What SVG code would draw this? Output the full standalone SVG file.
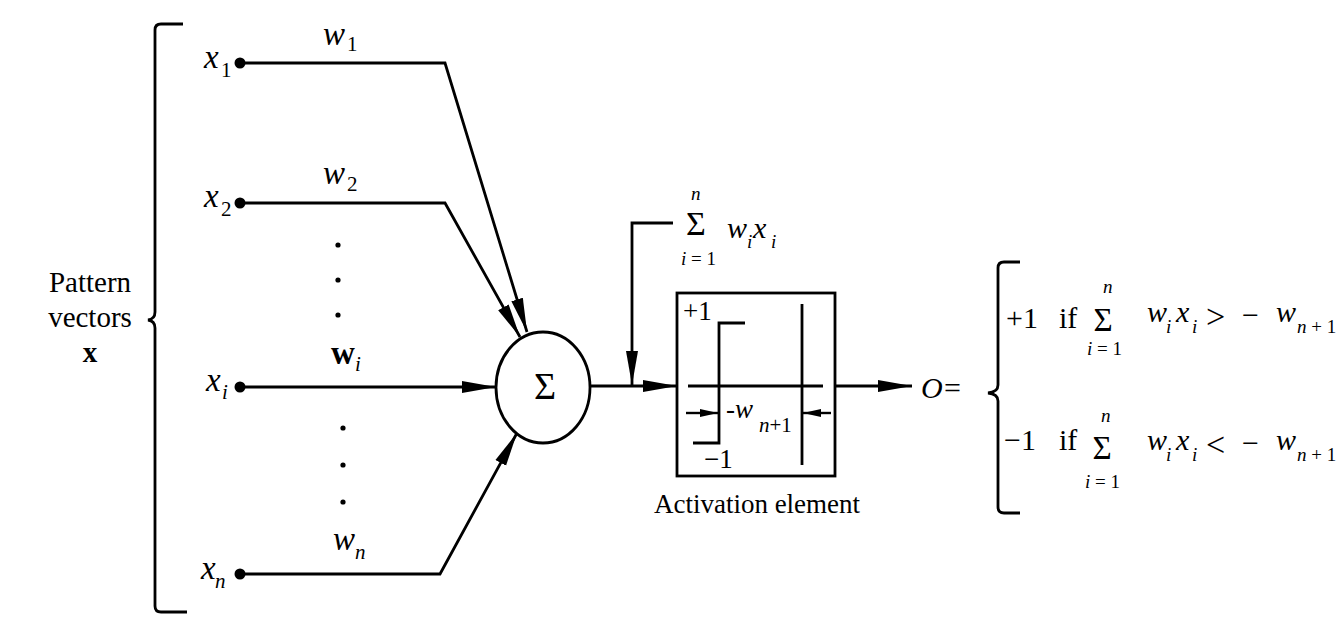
<svg xmlns="http://www.w3.org/2000/svg" width="1343" height="636" viewBox="0 0 1343 636" font-family="'Liberation Serif', serif">
<defs>
<marker id="ah" markerUnits="userSpaceOnUse" markerWidth="36" markerHeight="14" refX="34" refY="7" orient="auto">
<path d="M0,1 L34,7 L0,13 z" fill="#000"/>
</marker>
<marker id="as" markerUnits="userSpaceOnUse" markerWidth="20" markerHeight="10" refX="18" refY="5" orient="auto">
<path d="M0,1 L18,5 L0,9 z" fill="#000"/>
</marker>
<style>
.ln{fill:none;stroke:#000;stroke-width:2.8;stroke-linejoin:miter}
.thin{fill:none;stroke:#000;stroke-width:2.4}
text{font-family:'Liberation Serif',serif;fill:#000}
.it{font-style:italic}
.v{font-size:33px}
.s{font-size:21px}
.f{font-size:30px}
.fs{font-size:19px}
</style>
</defs>
<rect width="1343" height="636" fill="#fff"/>

<g id="pattern-label">
<text x="90" y="292" font-size="29" text-anchor="middle">Pattern</text>
<text x="90" y="327" font-size="29" text-anchor="middle">vectors</text>
<text x="90" y="362" font-size="29" font-weight="bold" text-anchor="middle">x</text>
<path class="ln" d="M183,24 H161 Q155,24 155,30 V312 Q155,319 148,320 Q155,321 155,328 V606 Q155,612 161,612 H187"/>
</g>

<g id="x1">
<circle cx="240" cy="63" r="5.5"/>
<text class="it v" x="204" y="68">x</text><text class="s" x="221" y="77">1</text>
<text class="it v" x="323" y="45">w</text><text class="s" x="347" y="51">1</text>
</g>
<g id="x2">
<circle cx="240" cy="203" r="5.5"/>
<text class="it v" x="204" y="207">x</text><text class="s" x="221" y="216">2</text>
<text class="it v" x="323" y="184">w</text><text class="s" x="347" y="191">2</text>
</g>
<g id="dots-upper">
<circle cx="338" cy="245" r="2.6"/><circle cx="338" cy="280" r="2.6"/><circle cx="338" cy="315" r="2.6"/>
</g>
<g id="xi">
<circle cx="240" cy="387" r="5.5"/>
<text class="it v" x="206" y="391">x</text><text class="it s" x="222" y="399">i</text>
<text class="v" x="331" y="364" font-weight="bold">w</text><text class="it s" x="355" y="371">i</text>
</g>
<g id="dots-lower">
<circle cx="343" cy="428" r="2.6"/><circle cx="343" cy="465" r="2.6"/><circle cx="343" cy="502" r="2.6"/>
</g>
<g id="xn">
<circle cx="240" cy="574" r="5.5"/>
<text class="it v" x="201" y="579">x</text><text class="it s" x="215" y="588">n</text>
<text class="it v" x="333" y="550">w</text><text class="it s" x="355" y="559">n</text>
</g>

<g id="summer">
<ellipse cx="543" cy="387.5" rx="47" ry="55.5" class="ln"/>
<text x="545" y="399" font-size="38" text-anchor="middle">Σ</text>
</g>

<g id="sum-label">
<text class="it fs" x="691" y="200">n</text>
<text x="696" y="235" font-size="34" text-anchor="middle">Σ</text>
<text class="it f" x="727" y="238">w</text><text class="it fs" x="747" y="248">i</text>
<text class="it f" x="753" y="238">x</text><text class="it fs" x="771" y="248">i</text>
<text class="fs" x="681" y="265"><tspan font-style="italic">i</tspan> = 1</text>
</g>

<g id="activation">
<rect x="677" y="293" width="158" height="183" class="ln"/>
<line x1="688" y1="386" x2="823" y2="386" class="ln"/>
<path class="ln" d="M693,443 H719 V323 H745"/>
<line x1="802" y1="304" x2="802" y2="465" class="ln"/>
<line x1="686" y1="413" x2="718" y2="413" class="thin" marker-end="url(#as)"/>
<line x1="831" y1="413" x2="803" y2="413" class="thin" marker-end="url(#as)"/>
<text x="683" y="320" font-size="27">+1</text>
<text x="704" y="468" font-size="27">−1</text>
<text class="it" x="726" y="418" font-size="27">-w</text><text class="it s" x="759" y="432">n<tspan font-style="normal">+1</tspan></text>
<text x="757" y="513" font-size="27" text-anchor="middle">Activation element</text>
</g>

<g id="output">
<text class="it" x="921" y="398" font-size="30">O</text>
<text x="944" y="398" font-size="30">=</text>
<path class="ln" d="M1020,262 H1004 Q998,262 998,268 V385 Q998,392 988,393 Q998,394 998,401 V507 Q998,513 1004,513 H1020"/>
<text class="f" x="1006" y="328">+1</text>
<text class="f" x="1059" y="328">if</text>
<text class="it fs" x="1103" y="293">n</text>
<text x="1103" y="331" font-size="33" text-anchor="middle">Σ</text>
<text class="fs" x="1087" y="355"><tspan font-style="italic">i</tspan> = 1</text>
<text class="it f" x="1147" y="322">w</text><text class="it fs" x="1166" y="333">i</text>
<text class="it f" x="1176" y="322">x</text><text class="it fs" x="1192" y="333">i</text>
<text x="1206" y="328" font-size="34">&gt;</text>
<text class="f" x="1242" y="325">−</text>
<text class="it f" x="1276" y="322">w</text><text class="fs" x="1297" y="333"><tspan font-style="italic">n</tspan> + 1</text>

<text class="f" x="1004" y="450">−1</text>
<text class="f" x="1059" y="450">if</text>
<text class="it fs" x="1101" y="422">n</text>
<text x="1102" y="459" font-size="33" text-anchor="middle">Σ</text>
<text class="fs" x="1085" y="488"><tspan font-style="italic">i</tspan> = 1</text>
<text class="it f" x="1147" y="450">w</text><text class="it fs" x="1166" y="461">i</text>
<text class="it f" x="1176" y="450">x</text><text class="it fs" x="1192" y="461">i</text>
<text x="1206" y="456" font-size="34">&lt;</text>
<text class="f" x="1242" y="453">−</text>
<text class="it f" x="1276" y="450">w</text><text class="fs" x="1297" y="461"><tspan font-style="italic">n</tspan> + 1</text>
</g>

<g id="connectors">
<polyline class="ln" points="245,63 445,63 527,332" marker-end="url(#ah)"/>
<polyline class="ln" points="245,203 445,203 520,337" marker-end="url(#ah)"/>
<line class="ln" x1="245" y1="387" x2="496" y2="387" marker-end="url(#ah)"/>
<polyline class="ln" points="245,574 440,574 517,433" marker-end="url(#ah)"/>
<line class="ln" x1="590" y1="386" x2="677" y2="386" marker-end="url(#ah)"/>
<polyline class="ln" points="673,223 632,223 632,385" marker-end="url(#ah)"/>
<line class="ln" x1="835" y1="386" x2="912" y2="386" marker-end="url(#ah)"/>
</g>
</svg>
